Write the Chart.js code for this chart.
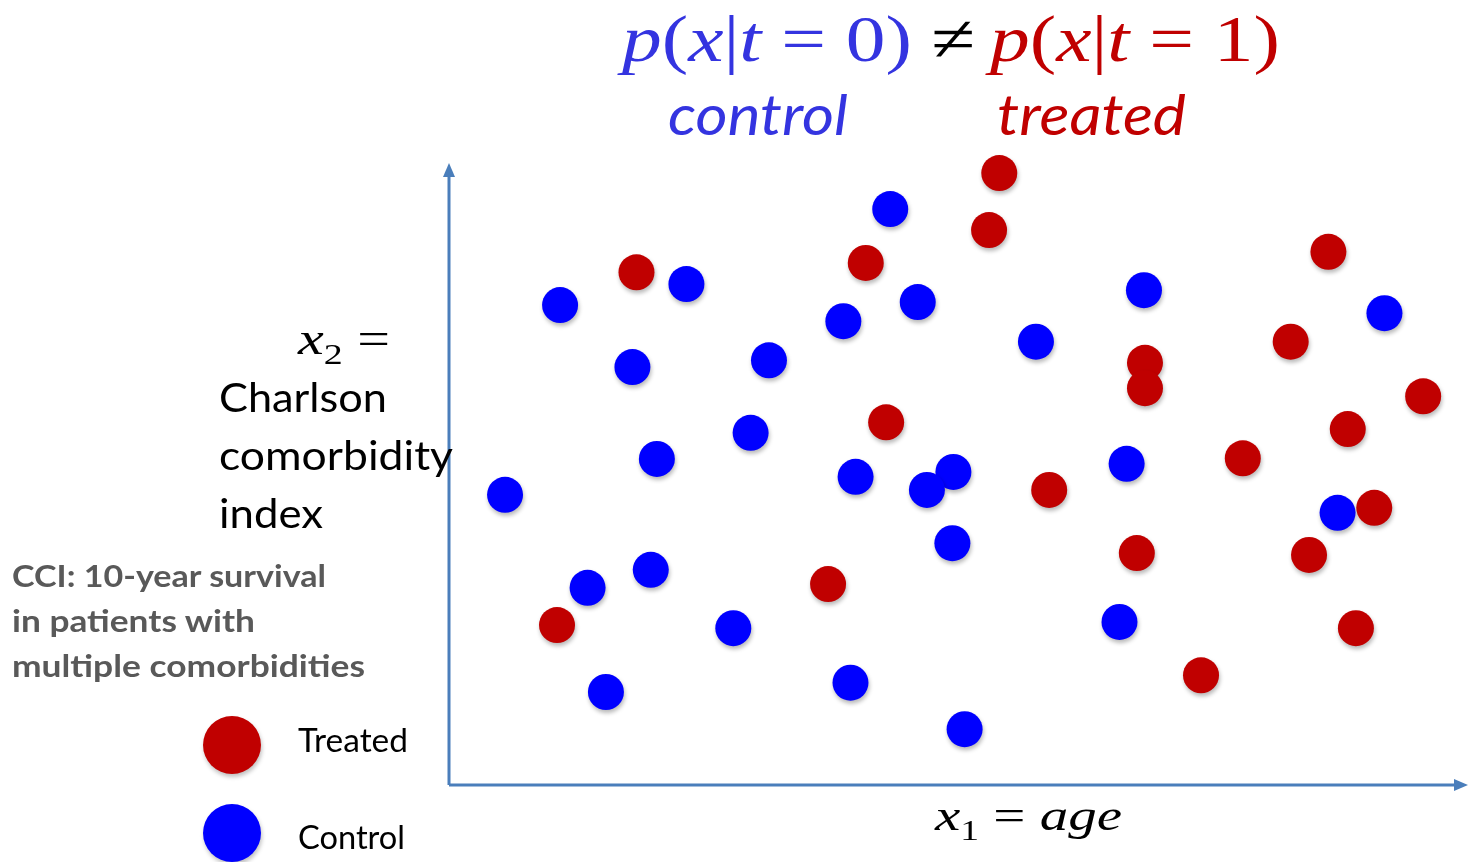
<!DOCTYPE html>
<html>
<head>
<meta charset="utf-8">
<script src="https://cdn.jsdelivr.net/npm/chart.js@4.4.1/dist/chart.umd.min.js"></script>
<style>
  body { margin: 0; background: #fff; }
  #wrap { position: relative; width: 1468px; height: 862px; overflow: hidden; }
  canvas { position: absolute; left: 0; top: 0; }
  .t { position: absolute; white-space: nowrap; line-height: 1; transform-origin: 0 0; }
  .math { font-family: "Liberation Serif", "DejaVu Serif", serif; font-style: italic; }
  .up { font-style: normal; }
  .sans { font-family: Lato, "Open Sans", sans-serif; }
  .dot { position: absolute; border-radius: 50%; box-shadow: 1px 3px 4px rgba(0,0,0,0.25); }
</style>
</head>
<body>
<div id="wrap">
  <canvas id="c" width="1468" height="862"></canvas>

  <div class="t math" data-w="290" style="left:622px; top:6px; font-size:66px; color:#3434e0;">p<span class="up">(</span>x<span class="up">|</span>t <span class="up">= 0)</span></div>
  <div class="t math up" data-w="44" style="left:931px; top:6px; font-size:66px; color:#000;">≠</div>
  <div class="t math" data-w="290" style="left:990px; top:6px; font-size:66px; color:#c00000;">p<span class="up">(</span>x<span class="up">|</span>t <span class="up">= 1)</span></div>
  <div class="t sans" data-w="180" style="left:668px; top:86px; font-size:56px; font-style:italic; color:#3434e0;">control</div>
  <div class="t sans" data-w="189" style="left:997px; top:86px; font-size:56px; font-style:italic; color:#c00000;">treated</div>

  <div class="t math" data-w="92" style="left:298px; top:316px; font-size:46px; color:#000;">x<sub class="up" style="font-size:30px">2</sub> <span class="up">=</span></div>
  <div class="t sans" data-w="168" style="left:219px; top:376px; font-size:41px; color:#000;">Charlson</div>
  <div class="t sans" data-w="234" style="left:219px; top:434px; font-size:41px; color:#000;">comorbidity</div>
  <div class="t sans" data-w="104" style="left:219px; top:492px; font-size:41px; color:#000;">index</div>

  <div class="t sans" data-w="314" style="left:12px; top:560px; font-size:31px; font-weight:bold; color:#595959;">CCI: 10-year survival</div>
  <div class="t sans" data-w="243" style="left:12px; top:605px; font-size:31px; font-weight:bold; color:#595959;">in patients with</div>
  <div class="t sans" data-w="353" style="left:12px; top:650px; font-size:31px; font-weight:bold; color:#595959;">multiple comorbidities</div>

  <div class="dot" style="left:203px; top:716px; width:58px; height:58px; background:#c00000;"></div>
  <div class="t sans" data-w="110" style="left:298px; top:724px; font-size:32px; color:#000;">Treated</div>
  <div class="dot" style="left:203px; top:804px; width:58px; height:58px; background:#0000ff;"></div>
  <div class="t sans" data-w="107" style="left:298px; top:821px; font-size:32px; color:#000;">Control</div>

  <div class="t math" data-w="187" style="left:935px; top:794px; font-size:44px; color:#000;">x<sub class="up" style="font-size:29px">1</sub> <span class="up">=</span> age</div>
</div>

<script>
// x1 = age (relative units 0-100), x2 = Charlson index (relative units 0-10)
const treatedAge = [54.0, 53.0, 40.9, 18.4, 86.3, 82.6, 68.3, 68.3, 95.6, 88.2,
  42.9, 77.9, 58.9, 90.8, 67.5, 84.4, 37.2, 10.6, 89.0, 73.8];
const treatedCci = [9.87, 8.95, 8.42, 8.27, 8.60, 7.15, 6.81, 6.40, 6.27, 5.74,
  5.85, 5.27, 4.76, 4.47, 3.74, 3.71, 3.24, 2.58, 2.53, 1.77];

const controlAge = [43.3, 23.3, 10.9, 46.0, 38.7, 68.2, 91.8, 57.6, 18.0, 31.4,
  29.6, 20.4, 39.9, 49.5, 46.9, 66.5, 5.5, 87.2, 49.4, 19.8,
  13.6, 27.9, 65.8, 15.4, 39.4, 50.6];
const controlCci = [9.29, 8.08, 7.74, 7.79, 7.48, 7.98, 7.61, 7.15, 6.74, 6.85,
  5.68, 5.26, 4.97, 5.05, 4.76, 5.18, 4.68, 4.39, 3.90, 3.47,
  3.18, 2.53, 2.63, 1.50, 1.65, 0.90];

const toPoints = (xs, ys) => xs.map((x, i) => ({ x: x, y: ys[i] }));

// stretch the text labels to the widths they have on the slide
function fitText() {
  document.querySelectorAll('[data-w]').forEach((el) => {
    el.style.transform = 'none';
    const w = el.getBoundingClientRect().width;
    el.style.transform = 'scaleX(' + (el.dataset.w / w) + ')';
  });
}
fitText();
if (document.fonts) document.fonts.ready.then(fitText);

// arrows for the two axes, drawn at the edges of the chart area
const axisArrows = {
  id: 'axisArrows',
  beforeDatasetsDraw(chart) {
    const { ctx, chartArea: a } = chart;
    ctx.save();
    ctx.strokeStyle = '#4a7ebb';
    ctx.fillStyle = '#4a7ebb';
    ctx.lineWidth = 3;
    ctx.beginPath();
    ctx.moveTo(a.left, a.bottom);
    ctx.lineTo(a.left, a.top + 8);
    ctx.moveTo(a.left, a.bottom);
    ctx.lineTo(a.right - 8, a.bottom);
    ctx.stroke();
    ctx.beginPath();
    ctx.moveTo(a.left, a.top - 2);
    ctx.lineTo(a.left - 6, a.top + 12);
    ctx.lineTo(a.left + 6, a.top + 12);
    ctx.closePath();
    ctx.fill();
    ctx.beginPath();
    ctx.moveTo(a.right, a.bottom);
    ctx.lineTo(a.right - 14, a.bottom - 6);
    ctx.lineTo(a.right - 14, a.bottom + 6);
    ctx.closePath();
    ctx.fill();
    ctx.restore();
    // soft shadow under the points
    ctx.save();
    ctx.shadowColor = 'rgba(0,0,0,0.28)';
    ctx.shadowBlur = 4;
    ctx.shadowOffsetX = 1;
    ctx.shadowOffsetY = 3;
  },
  afterDatasetsDraw(chart) {
    chart.ctx.restore();
  }
};

new Chart(document.getElementById('c'), {
  type: 'scatter',
  data: {
    datasets: [
      {
        label: 'Treated',
        data: toPoints(treatedAge, treatedCci),
        backgroundColor: '#c00000',
        borderWidth: 0,
        pointRadius: 18,
        pointHoverRadius: 18
      },
      {
        label: 'Control',
        data: toPoints(controlAge, controlCci),
        backgroundColor: '#0000ff',
        borderWidth: 0,
        pointRadius: 18,
        pointHoverRadius: 18
      }
    ]
  },
  options: {
    responsive: false,
    animation: false,
    clip: false,
    layout: { autoPadding: false, padding: { left: 449, right: 0, top: 165, bottom: 77 } },
    scales: {
      x: { type: 'linear', min: 0, max: 100, display: false },
      y: { type: 'linear', min: 0, max: 10, display: false }
    },
    plugins: {
      legend: { display: false },
      tooltip: { enabled: false }
    }
  },
  plugins: [axisArrows]
});
</script>
</body>
</html>
